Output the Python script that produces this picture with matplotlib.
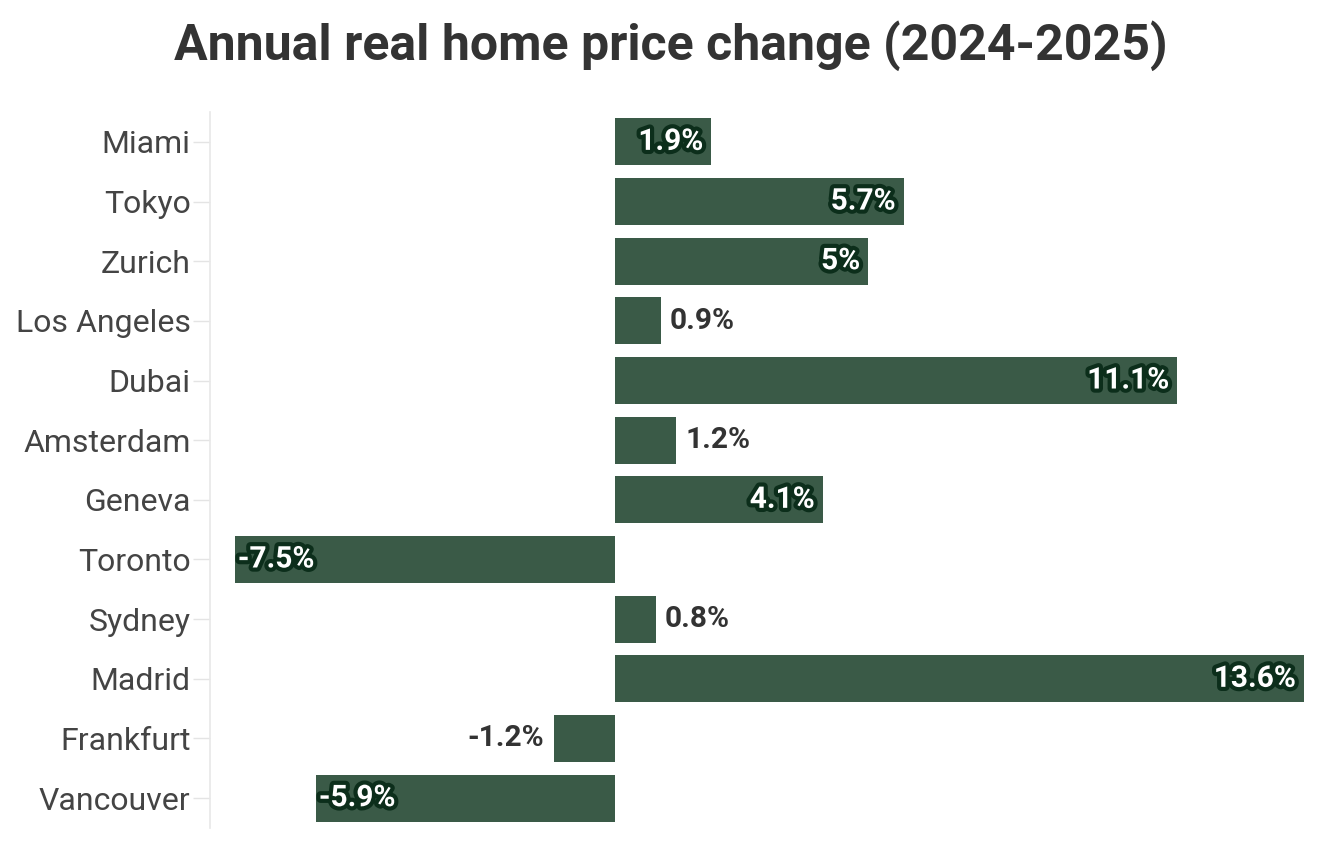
import matplotlib.pyplot as plt
import matplotlib.patheffects as pe

cities = ["Miami", "Tokyo", "Zurich", "Los Angeles", "Dubai", "Amsterdam",
          "Geneva", "Toronto", "Sydney", "Madrid", "Frankfurt", "Vancouver"]
change = [1.9, 5.7, 5.0, 0.9, 11.1, 1.2, 4.1, -7.5, 0.8, 13.6, -1.2, -5.9]
labels = ["1.9%", "5.7%", "5%", "0.9%", "11.1%", "1.2%", "4.1%", "-7.5%",
          "0.8%", "13.6%", "-1.2%", "-5.9%"]

plt.rcParams['font.family'] = ['Roboto', 'DejaVu Sans']

fig = plt.figure(figsize=(13.41, 8.52), dpi=100)
ax = fig.add_axes([0.1566, 0.0282, 0.9724 - 0.1566, 0.8685 - 0.0282])

bar_color = "#3a5a47"
ypos = list(range(len(cities)))
ax.barh(ypos, change, height=0.79, color=bar_color)

stroke = [pe.withStroke(linewidth=6, foreground="#0c2e1b")]
for y, v, lab in zip(ypos, change, labels):
    if abs(v) > 1.5:
        # inside the bar, white with dark outline
        ha = "right" if v > 0 else "left"
        off = -0.16 if v > 0 else 0.05
        t = ax.text(v + off, y, lab, ha=ha, va="center", fontsize=21.5,
                    fontweight="bold", color="white")
        t.set_path_effects(stroke)
    else:
        ha = "left" if v > 0 else "right"
        off = 0.18 if v > 0 else -0.2
        ax.text(v + off, y, lab, ha=ha, va="center", fontsize=21.5,
                fontweight="bold", color="#333333")

ax.set_xlim(-8, 13.6)
ax.set_ylim(11.5, -0.5)
ax.set_yticks(ypos)
ax.set_yticklabels(cities, fontsize=23, color="#444444")
ax.set_xticks([])
ax.tick_params(axis="y", length=12, width=1, color="#e4e4e4", pad=2)

for s in ["top", "right", "bottom"]:
    ax.spines[s].set_visible(False)
ax.spines["left"].set_color("#e8e8e8")
ax.spines["left"].set_linewidth(1.2)

fig.text(0.5, 0.947, "Annual real home price change (2024-2025)", ha="center",
         va="center", fontsize=36, fontweight="bold", color="#333333")

fig.savefig("out.png", dpi=100)
